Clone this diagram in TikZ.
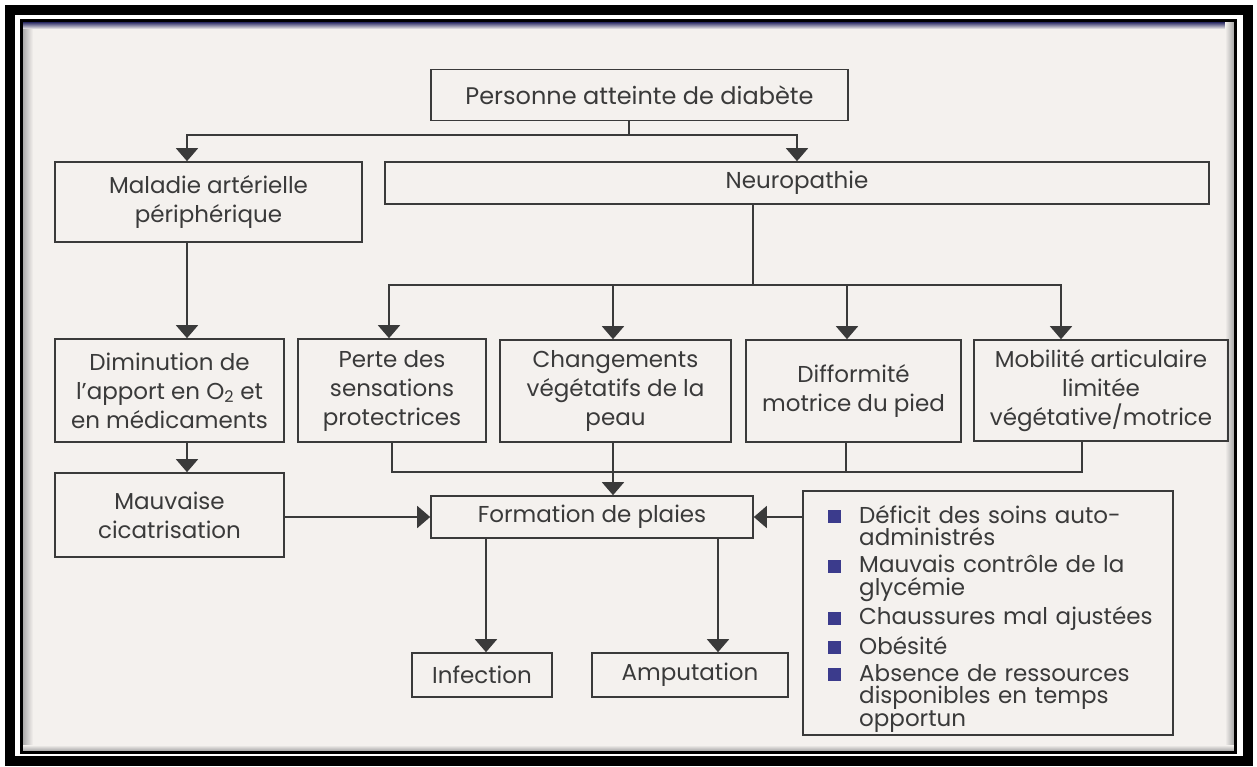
\documentclass[tikz,border=0pt]{standalone}
\usepackage{fontspec}
\setmainfont{Poppins}
\usetikzlibrary{arrows.meta, positioning}
\definecolor{fond}{HTML}{F4F1EE}
\definecolor{trait}{HTML}{3A3A3A}
\definecolor{bleupuce}{HTML}{3B3B8C}
\newcommand{\puce}{\makebox[31pt][l]{\textcolor{bleupuce}{\rule{13pt}{13pt}}}}
\tikzset{
    x=1pt, y=-1pt, % one unit per pixel, y going down
    box/.style={draw=trait, line width=1.6pt, text=trait, align=center, inner sep=0pt,
        font=\fontsize{23}{29}\selectfont}, % every box of the chart
    arr/.style={draw=trait, line width=1.6pt, -{Triangle[width=22pt,length=13pt]}}, % connector with a tip
    link/.style={draw=trait, line width=1.6pt}, % connector without a tip
}
\begin{document}
\begin{tikzpicture}
    \useasboundingbox (0,0) rectangle (1257,767);
    % frame
    \draw[line width=10pt] (10,10) rectangle (1248,761);
    \fill[fond] (21,21) rectangle (1235,752);
    \shade[left color=gray!70, right color=fond] (22,22) rectangle (33,751);
    \shade[top color=bleupuce!70!black, bottom color=fond] (22,22) rectangle (1234,29);
    \shade[left color=fond, right color=gray!70] (1225,22) rectangle (1234,751);
    \shade[top color=fond, bottom color=gray!70] (22,745) rectangle (1234,751);
    \draw[line width=3pt] (21,21) rectangle (1235,752);

    \node[box, minimum width=417pt, minimum height=51pt, font=\fontsize{24}{29}\selectfont] (diabete) at (639.5,95) {Personne atteinte de diabète};
    \node[box, minimum width=307pt, minimum height=80pt] (arterielle) at (208.5,202) {Maladie artérielle\\périphérique};
    \node[box, minimum width=824pt, minimum height=42pt] (neuro) at (797,183) {Neuropathie};
    \node[box, minimum width=229pt, minimum height=103pt] (apport) at (169.5,390.5) {Diminution de\\l'apport en O\textsubscript{2} et\\en médicaments};
    \node[box, minimum width=188pt, minimum height=103pt] (perte) at (392,390.5) {Perte des\\sensations\\protectrices};
    \node[box, minimum width=231pt, minimum height=102pt] (vegetatif) at (615.5,391) {Changements\\végétatifs de la\\peau};
    \node[box, minimum width=215pt, minimum height=102pt] (difformite) at (853.5,391) {Difformité\\motrice du pied};
    \node[box, minimum width=254pt, minimum height=101pt] (mobilite) at (1101,390.5) {Mobilité articulaire\\limitée\\végétative/motrice};
    \node[box, minimum width=229pt, minimum height=84pt] (cicatrisation) at (169.5,515) {Mauvaise\\cicatrisation};
    \node[box, minimum width=322pt, minimum height=42pt] (plaies) at (592,517) {Formation de plaies};
    \node[box, minimum width=140pt, minimum height=44pt] (infection) at (482,675) {Infection};
    \node[box, minimum width=196pt, minimum height=44pt] (amputation) at (690,675) {Amputation};
    \node[box, minimum width=370pt, minimum height=244pt] (facteurs) at (988,613) {};
    \node[text=trait, inner sep=0pt, text width=340pt, align=left, anchor=base west,
        font=\fontsize{23}{22.5}\selectfont] (liste) at (828,523) {%
        \puce Déficit des soins auto-\\\hspace*{31pt}administrés\\[4.5pt]
        \puce Mauvais contrôle de la\\\hspace*{31pt}glycémie\\[4.5pt]
        \puce Chaussures mal ajustées\\[4.5pt]
        \puce Obésité\\[4.5pt]
        \puce Absence de ressources\\\hspace*{31pt}disponibles en temps\\\hspace*{31pt}opportun};

    % branching points
    \coordinate (j1) at (629,135);
    \coordinate (j2) at (753,285);
    \coordinate (j3) at (613,472);

    \draw[link] ([xshift=-10.5pt]diabete.south) -- (j1);
    \draw[arr] (j1) -| ([xshift=-21.5pt]arterielle.north);
    \draw[arr] (j1) -| (neuro.north);
    \draw[link] ([xshift=-44pt]neuro.south) -- (j2);
    \draw[arr] (j2) -| ([xshift=-3pt]perte.north);
    \draw[arr] (j2) -| ([xshift=-2.5pt]vegetatif.north);
    \draw[arr] (j2) -| ([xshift=-6.5pt]difformite.north);
    \draw[arr] (j2) -| ([xshift=-40pt]mobilite.north);
    \draw[arr] ([xshift=-21.5pt]arterielle.south) -- ([xshift=17.5pt]apport.north);
    \draw[arr] ([xshift=17.5pt]apport.south) -- ([xshift=17.5pt]cicatrisation.north);
    \draw[link] (perte.south) |- (j3);
    \draw[link] ([xshift=-19pt]mobilite.south) |- (j3);
    \draw[link] ([xshift=-7.5pt]difformite.south) -- ++(0,30);
    \draw[arr] ([xshift=-2.5pt]vegetatif.south) -- ([xshift=21pt]plaies.north);
    \draw[arr] (cicatrisation.east |- plaies.west) -- (plaies.west);
    \draw[arr] (facteurs.west |- plaies.east) -- (plaies.east);
    \draw[arr] ([xshift=-106pt]plaies.south) -- ([xshift=4pt]infection.north);
    \draw[arr] ([xshift=126pt]plaies.south) -- ([xshift=28pt]amputation.north);
\end{tikzpicture}
\end{document}
